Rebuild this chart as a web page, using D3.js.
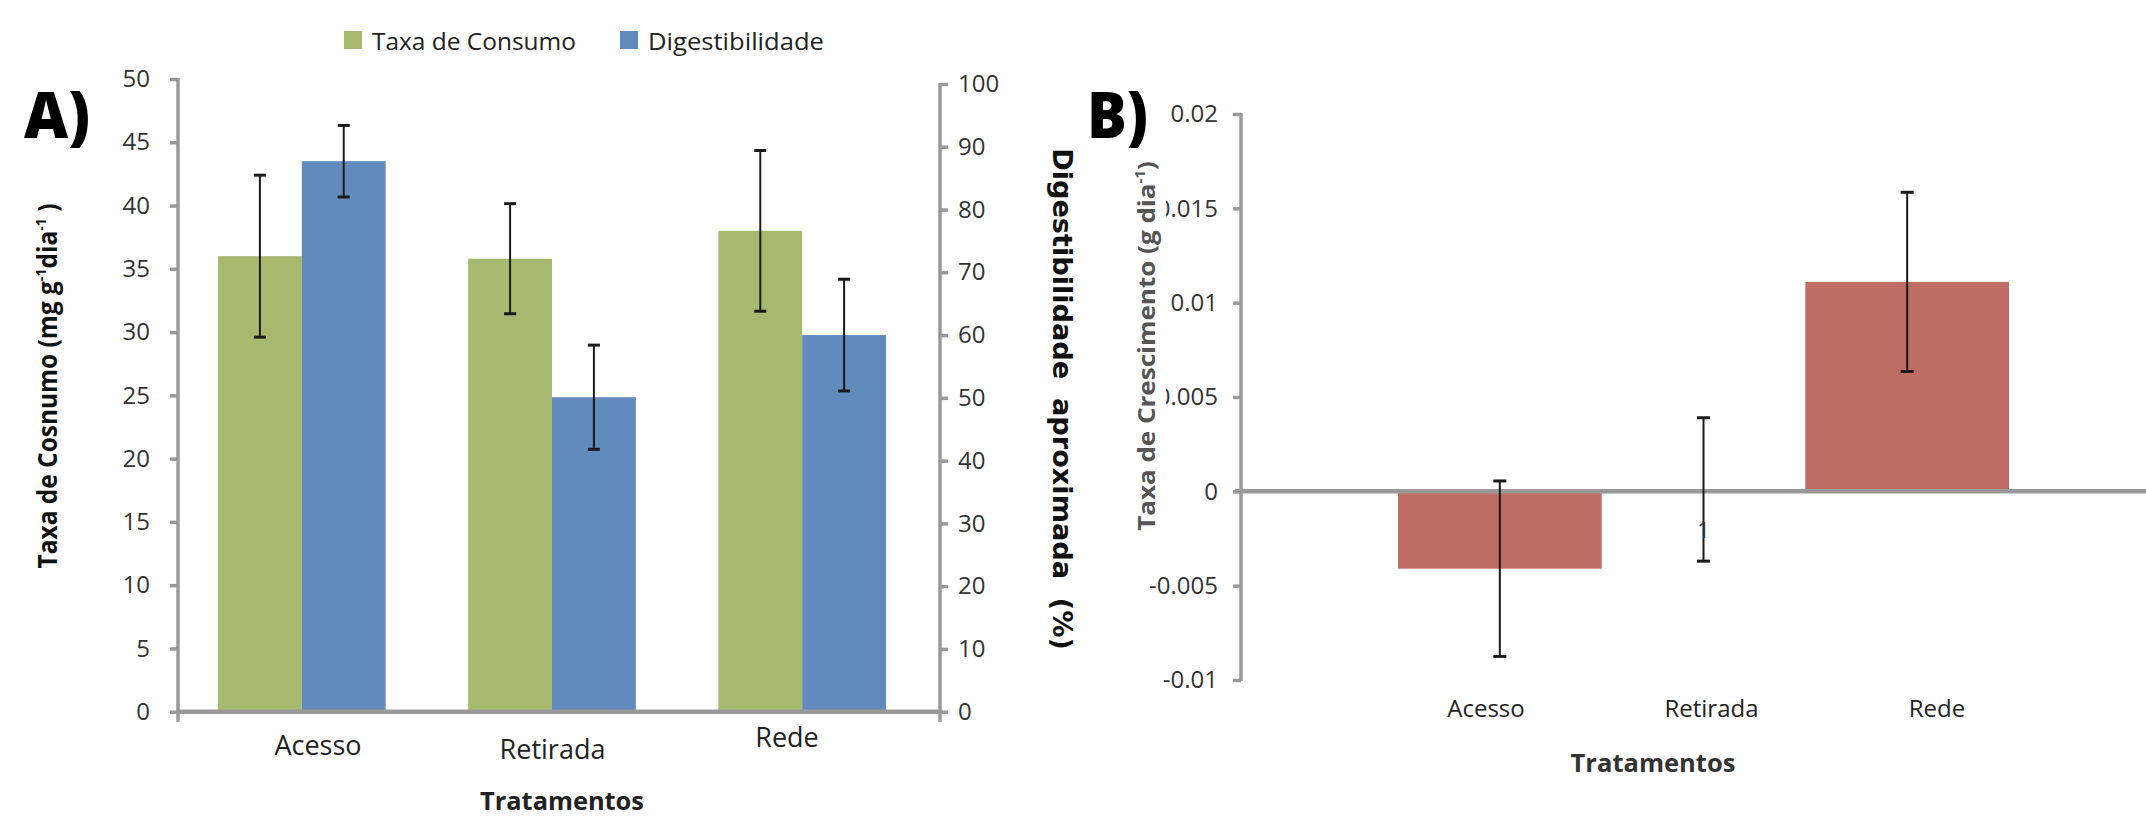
<!DOCTYPE html>
<html><head><meta charset="utf-8">
<script src="https://cdn.jsdelivr.net/npm/d3@7"></script>
<style>body{margin:0;background:#fff} svg{display:block}</style>
</head><body><svg id="c" width="2146" height="817"></svg>
<script>
// ---------- DATA ----------
const categories = ["Acesso", "Retirada", "Rede"];
const seriesNames = ["Taxa de Consumo", "Digestibilidade"];
const consumo = [36.0, 35.8, 38.0];
const consumoErr = [6.4, 4.35, 6.35];
const digest = [87.7, 50.1, 60.0];
const digestErr = [5.7, 8.3, 8.9];
const crescimento = [-0.0041, 0.0001, 0.0111];
const crescimentoErr = [0.00465, 0.0038, 0.00475];
const leftTicks = [0, 5, 10, 15, 20, 25, 30, 35, 40, 45, 50];
const rightTicks = [0, 10, 20, 30, 40, 50, 60, 70, 80, 90, 100];
const growthTicks = [-0.01, -0.005, 0, 0.005, 0.01, 0.015, 0.02];
const growthTickLabels = ["-0.01", "-0.005", "0", "0.005", "0.01", "0.015", "0.02"];

// ---------- STYLE ----------
const GREEN = "#a7b86f", BLUE = "#618abd", RED = "#be6d62", AXIS = "#999";
const FONT = "'Open Sans', 'Noto Sans', sans-serif";

const svg = d3.select("#c");
svg.append("rect").attr("width", 2146).attr("height", 817).attr("fill", "#fff");

function fit(textSel, target) {
  const n = textSel.node();
  const L = n.getComputedTextLength();
  if (L > 0) textSel.attr("transform", `scale(${target / L},1)`);
}

// ================= PANEL A =================
const yL = d3.scaleLinear([0, 50], [711.7, 79]);
const yR = d3.scaleLinear([0, 100], [711.7, 84]);
const x0 = d3.scaleBand(categories, [218, 886]).paddingInner(0.33).paddingOuter(0);
const x1 = d3.scaleBand([0, 1], [0, x0.bandwidth()]);
const A = svg.append("g");

const groups = A.selectAll("g.grp").data(categories).join("g")
  .attr("class", "grp").attr("transform", d => `translate(${x0(d)},0)`);
groups.append("rect")
  .attr("x", x1(0)).attr("width", x1.bandwidth())
  .attr("y", (d, i) => yL(consumo[i])).attr("height", (d, i) => yL(0) - yL(consumo[i]))
  .attr("fill", GREEN);
groups.append("rect")
  .attr("x", x1(1)).attr("width", x1.bandwidth())
  .attr("y", (d, i) => yR(digest[i])).attr("height", (d, i) => yR(0) - yR(digest[i]))
  .attr("fill", BLUE);

// axes A
const axL = A.append("g").attr("transform", "translate(178,0)")
  .call(d3.axisLeft(yL).tickValues(leftTicks).tickSize(8).tickPadding(20).tickFormat(d3.format("d")));
const axR = A.append("g").attr("transform", "translate(940,0)")
  .call(d3.axisRight(yR).tickValues(rightTicks).tickSize(8).tickPadding(10).tickFormat(d3.format("d")));
[axL, axR].forEach(g => {
  g.select(".domain").remove();
  g.selectAll(".tick line").attr("stroke", AXIS).attr("stroke-width", 3.5);
  g.selectAll(".tick text").attr("font-family", FONT).attr("font-size", 24).attr("fill", "#333");
});
A.append("line").attr("x1", 178).attr("x2", 178).attr("y1", yL(50) - 1).attr("y2", yL(0) + 10)
  .attr("stroke", AXIS).attr("stroke-width", 3.5);
A.append("line").attr("x1", 940).attr("x2", 940).attr("y1", yR(100) - 1).attr("y2", yR(0) + 10)
  .attr("stroke", AXIS).attr("stroke-width", 3.5);
A.append("line").attr("x1", 178).attr("x2", 940).attr("y1", yL(0)).attr("y2", yL(0))
  .attr("stroke", AXIS).attr("stroke-width", 4.5);

// error bars A
function errBar(g, cx, yTop, yBot, cap) {
  g.append("line").attr("x1", cx).attr("x2", cx).attr("y1", yTop).attr("y2", yBot)
    .attr("stroke", "#1a1a1a").attr("stroke-width", 2);
  [yTop, yBot].forEach(y => g.append("line").attr("x1", cx - cap / 2).attr("x2", cx + cap / 2)
    .attr("y1", y).attr("y2", y).attr("stroke", "#1a1a1a").attr("stroke-width", 3));
}
categories.forEach((c, i) => {
  const cg = x0(c) + x1(0) + x1.bandwidth() / 2;
  errBar(A, cg, yL(consumo[i] + consumoErr[i]), yL(consumo[i] - consumoErr[i]), 12);
  const cb = x0(c) + x1(1) + x1.bandwidth() / 2;
  errBar(A, cb, yR(digest[i] + digestErr[i]), yR(digest[i] - digestErr[i]), 12);
});

// category labels A
const labA = d3.scalePoint(categories, [318, 787]);
const labAy = [755, 759, 747];
A.selectAll("text.cat").data(categories).join("text").attr("class", "cat")
  .attr("x", d => labA(d)).attr("y", (d, i) => labAy[i])
  .attr("text-anchor", "middle").attr("font-family", FONT).attr("font-size", 27).attr("fill", "#222")
  .text(d => d);

// x title A
{
  const g = A.append("g").attr("transform", "translate(562,810)");
  const t = g.append("text").attr("text-anchor", "middle").attr("font-family", FONT)
    .attr("font-weight", "bold").attr("font-size", 25).attr("fill", "#222").text("Tratamentos");
  fit(t, 164);
}

// legend
const legX = [344, 620];
seriesNames.forEach((s, i) => {
  A.append("rect").attr("x", legX[i]).attr("y", 31).attr("width", 18).attr("height", 18)
    .attr("fill", i === 0 ? GREEN : BLUE);
  const g = A.append("g").attr("transform", `translate(${legX[i] + 28},49.5)`);
  const t = g.append("text").attr("font-family", FONT).attr("font-size", 24).attr("fill", "#222").text(s);
  fit(t, i === 0 ? 204 : 176);
});

// left title
{
  const g = A.append("g").attr("transform", "translate(57,386) rotate(-90)");
  const t = g.append("text").attr("text-anchor", "middle").attr("font-family", FONT)
    .attr("font-weight", "bold").attr("font-size", 26).attr("fill", "#111");
  t.append("tspan").text("Taxa de Cosnumo (mg g");
  t.append("tspan").attr("font-size", 15).attr("dy", -11).text("-1");
  t.append("tspan").attr("dy", 11).text("dia");
  t.append("tspan").attr("font-size", 15).attr("dy", -11).text("-1");
  t.append("tspan").attr("dy", 11).text(" )");
  fit(t, 365);
}
// right title
{
  const g = A.append("g").attr("transform", "translate(1053,399) rotate(90)");
  const t = g.append("text").attr("text-anchor", "middle")
    .attr("font-family", "'DejaVu Sans', sans-serif").attr("font-weight", "bold")
    .attr("font-size", 27).attr("fill", "#111").style("white-space", "pre")
    .text("Digestibilidade  aproximada  (%)");
  fit(t, 502);
}
// panel letter A
{
  const g = svg.append("g").attr("transform", "translate(24,138)");
  const t = g.append("text").attr("font-family", FONT).attr("font-weight", 800)
    .attr("font-size", 64).attr("fill", "#000").text("A)");
  fit(t, 66);
}

// ================= PANEL B =================
const yB = d3.scaleLinear([-0.01, 0.02], [680, 114]);
const xB = d3.scaleBand(categories, [1398, 2009]).paddingInner(0).paddingOuter(0);
const B = svg.append("g");

B.selectAll("rect.bar").data(categories).join("rect").attr("class", "bar")
  .attr("x", d => xB(d)).attr("width", xB.bandwidth())
  .attr("y", (d, i) => yB(Math.max(crescimento[i], 0)))
  .attr("height", (d, i) => Math.abs(yB(crescimento[i]) - yB(0)))
  .attr("fill", RED);

const axB = B.append("g").attr("transform", "translate(1241,0)")
  .call(d3.axisLeft(yB).tickValues(growthTicks).tickSize(8).tickPadding(15)
    .tickFormat((d, i) => growthTickLabels[i]));
axB.select(".domain").remove();
axB.selectAll(".tick line").attr("stroke", AXIS).attr("stroke-width", 3.5);
axB.selectAll(".tick text").attr("font-family", FONT).attr("font-size", 24).attr("fill", "#333");
B.append("line").attr("x1", 1241).attr("x2", 1241).attr("y1", yB(0.02) - 1).attr("y2", yB(-0.01) + 1)
  .attr("stroke", AXIS).attr("stroke-width", 3.5);
B.append("line").attr("x1", 1235).attr("x2", 2146).attr("y1", yB(0)).attr("y2", yB(0))
  .attr("stroke", AXIS).attr("stroke-width", 4.5);

categories.forEach((c, i) => {
  const cx = xB(c) + xB.bandwidth() / 2;
  errBar(B, cx, yB(crescimento[i] + crescimentoErr[i]), yB(crescimento[i] - crescimentoErr[i]), 13);
});
// stray data label on Retirada
B.append("text").attr("x", xB("Retirada") + xB.bandwidth() / 2).attr("y", 538)
  .attr("text-anchor", "middle").attr("font-family", FONT).attr("font-size", 22).attr("fill", "#333").text("1");

// category labels B
const labB = d3.scalePoint(categories, [1486, 1937]);
B.selectAll("text.cat").data(categories).join("text").attr("class", "cat")
  .attr("x", d => labB(d)).attr("y", 717)
  .attr("text-anchor", "middle").attr("font-family", FONT).attr("font-size", 24).attr("fill", "#222")
  .text(d => d);
{
  const g = B.append("g").attr("transform", "translate(1653,772)");
  const t = g.append("text").attr("text-anchor", "middle").attr("font-family", FONT)
    .attr("font-weight", "bold").attr("font-size", 25).attr("fill", "#333").text("Tratamentos");
  fit(t, 165);
}
// y title B (with white backing that hides leading digits)
B.append("rect").attr("x", 1128).attr("y", 155).attr("width", 38).attr("height", 385).attr("fill", "#fff");
{
  const g = B.append("g").attr("transform", "translate(1155,346) rotate(-90)");
  const t = g.append("text").attr("text-anchor", "middle").attr("font-family", FONT)
    .attr("font-weight", "bold").attr("font-size", 24).attr("fill", "#555");
  t.append("tspan").text("Taxa de Crescimento (g dia");
  t.append("tspan").attr("font-size", 14).attr("dy", -10).text("-1");
  t.append("tspan").attr("dy", 10).text(")");
  fit(t, 370);
}
{
  const g = svg.append("g").attr("transform", "translate(1087,138)");
  const t = g.append("text").attr("font-family", FONT).attr("font-weight", 800)
    .attr("font-size", 64).attr("fill", "#000").text("B)");
  fit(t, 61);
}
</script>
</body></html>
